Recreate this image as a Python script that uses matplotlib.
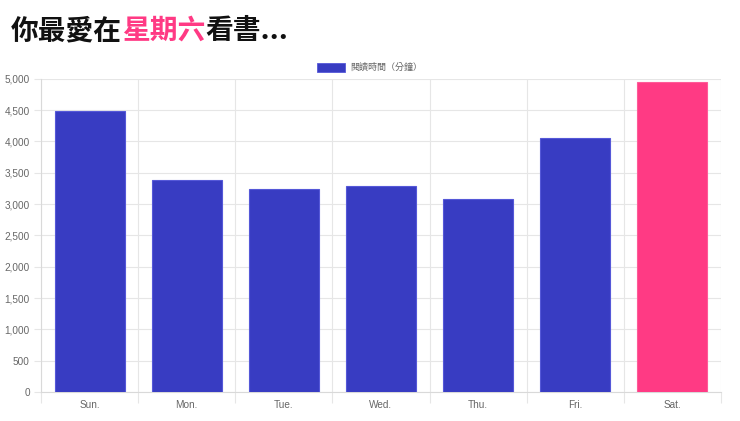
import matplotlib
matplotlib.use("Agg")
import matplotlib.pyplot as plt
from matplotlib.patches import Rectangle
import numpy as np

days = ["Sun.", "Mon.", "Tue.", "Wed.", "Thu.", "Fri.", "Sat."]
minutes = [4490, 3390, 3235, 3290, 3080, 4060, 4955]
series_label = "閱讀時間（分鐘）"
title_parts = ["你最愛在", "星期六", "看書..."]
blue = "#383cc2"
pink = "#ff3a84"
bar_colors = [blue] * 6 + [pink]
yticks = list(range(0, 5001, 500))

W, H = 740, 421
fig = plt.figure(figsize=(W / 100, H / 100), dpi=100)

def fx(px):
    return px / W

def fy(py):
    return 1 - py / H

ax = fig.add_axes([fx(41), fy(392), fx(721) - fx(41), fy(78.7) - fy(392)])
x = np.arange(len(days))
ax.bar(x, minutes, width=0.72, color=bar_colors, edgecolor=["#5558d8"] * 6 + ["#ff5a98"],
       linewidth=0.8, zorder=3)
ax.set_xlim(-0.5, len(days) - 0.5)
ax.set_ylim(0, 5000)

tick_font = dict(family=["Liberation Sans", "DejaVu Sans"], size=7.2, color="#666666")
ax.set_yticks(yticks)
ax.set_yticklabels([f"{v:,}" for v in yticks], **tick_font)
ax.set_xticks(x)
ax.set_xticklabels(days, **tick_font)
ax.set_xticks(np.arange(-0.5, len(days)), minor=True)
ax.tick_params(axis="x", which="major", length=0, pad=6)
ax.tick_params(axis="x", which="minor", length=8, color="#e6e6e6", width=0.8)
ax.tick_params(axis="y", length=5, color="#e6e6e6", width=0.8, pad=3)
ax.grid(True, axis="y", which="major", color="#e6e6e6", linewidth=0.8, zorder=0)
ax.grid(True, axis="x", which="minor", color="#e6e6e6", linewidth=0.8, zorder=0)
for s in ["top", "right"]:
    ax.spines[s].set_visible(False)
for s in ["left", "bottom"]:
    ax.spines[s].set_color("#d9d9d9")
    ax.spines[s].set_linewidth(0.8)

# legend
fig.add_artist(Rectangle((fx(317), fy(71.5)), fx(345) - fx(317), fy(63.5) - fy(71.5),
                         facecolor=blue, edgecolor="#5558d8", linewidth=0.6,
                         transform=fig.transFigure))
fig.text(fx(350), fy(67.5), series_label, ha="left", va="center",
         family=["Noto Sans CJK TC", "DejaVu Sans"], size=6.5, color="#666666")

# title with colored middle part
fig.canvas.draw()
renderer = fig.canvas.get_renderer()
xpos = fx(11)
colors = ["#111111", pink, "#111111"]
for part, c in zip(title_parts, colors):
    t = fig.text(xpos, fy(31), part, ha="left", va="center", color=c,
                 family=["Noto Sans CJK TC", "DejaVu Sans"], weight="bold", size=20)
    bb = t.get_window_extent(renderer=renderer)
    xpos += bb.width / W

fig.savefig("out.png", dpi=100)
